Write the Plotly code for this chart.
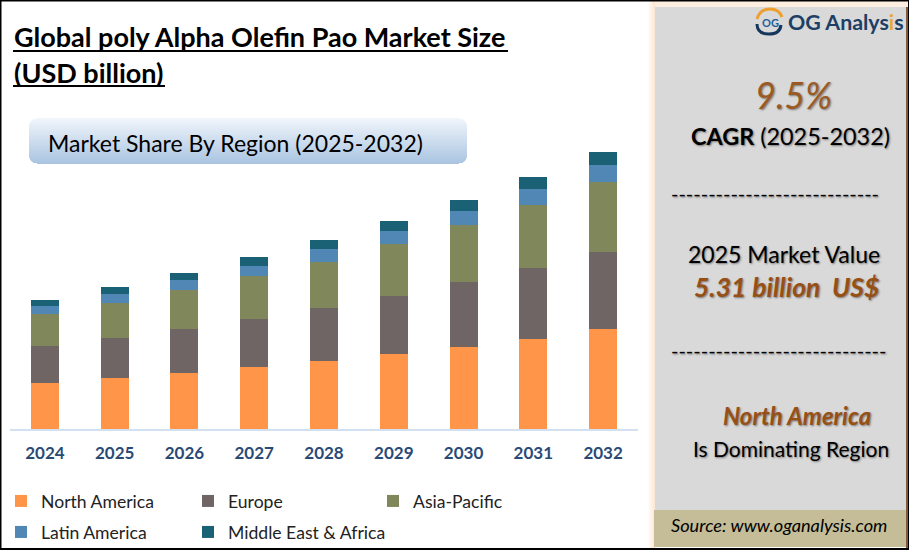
import plotly.graph_objects as go

years = ["2024", "2025", "2026", "2027", "2028", "2029", "2030", "2031", "2032"]
north_america = [1.72, 1.91, 2.09, 2.32, 2.54, 2.81, 3.08, 3.37, 3.74]
europe = [1.38, 1.51, 1.66, 1.80, 1.98, 2.17, 2.42, 2.66, 2.88]
asia_pacific = [1.20, 1.29, 1.45, 1.61, 1.73, 1.94, 2.13, 2.35, 2.62]
latin_america = [0.31, 0.35, 0.37, 0.37, 0.47, 0.49, 0.52, 0.61, 0.64]
middle_east = [0.21, 0.26, 0.26, 0.34, 0.34, 0.37, 0.41, 0.45, 0.49]

WIDTH, HEIGHT = 909, 550
SHADOW = "1px 1px 2px rgba(0,0,0,0.45)"


def px(x):
    return x / WIDTH


def py(y):
    return (HEIGHT - y) / HEIGHT


def rect(x0, y0, x1, y1, color):
    return dict(type="rect", xref="paper", yref="paper", x0=px(x0), x1=px(x1), y0=py(y0), y1=py(y1),
                fillcolor=color, line_width=0, layer="below")


def line(x0, y0, x1, y1, color, width):
    return dict(type="line", xref="paper", yref="paper", x0=px(x0), x1=px(x1), y0=py(y0), y1=py(y1),
                line=dict(color=color, width=width))


def curve(points, color, width):
    # points: start, then (ctrl, end) pairs of quadratic curves
    d = f"M{px(points[0][0])},{py(points[0][1])}"
    for c, e in zip(points[1::2], points[2::2]):
        d += f" Q{px(c[0])},{py(c[1])} {px(e[0])},{py(e[1])}"
    return dict(type="path", xref="paper", yref="paper", path=d, line=dict(color=color, width=width))


def label(x, y, text, size, color="#000000", anchor="left", shadow=None):
    font = dict(family="Lato", size=size, color=color)
    if shadow:
        font["shadow"] = shadow
    return dict(xref="paper", yref="paper", x=px(x), y=py(y), text=text, showarrow=False,
                xanchor=anchor, yanchor="middle", font=font, borderpad=0)


def mix(c1, c2, t):
    return "rgb(%d,%d,%d)" % tuple(round(a + (b - a) * t) for a, b in zip(c1, c2))


shapes = []

# gradient pill behind the sub heading, drawn as thin strips
pill_top, pill_bottom, pill_r = 118, 164, 8
for y in range(pill_top, pill_bottom):
    t = (y - pill_top) / (pill_bottom - pill_top)
    dist = min(y - pill_top, pill_bottom - 1 - y)
    inset = 0
    if dist < pill_r:
        inset = pill_r - (pill_r ** 2 - (pill_r - dist) ** 2) ** 0.5
    shapes.append(rect(29 + inset, y, 467 - inset, y + 1, mix((240, 245, 251), (168, 195, 224), t)))

# soft orange glow left of the right hand panel
for x in range(647, 655):
    shapes.append(rect(x, 1, x + 1, 548, mix((255, 255, 255), (252, 232, 212), (x - 647) / 7)))
shapes.append(rect(655, 1, 909, 7, "#fdeedf"))
shapes.append(rect(655, 7, 906, 511, "#d9d9d9"))
shapes.append(rect(654, 510, 906, 547, "#c4bd97"))
shapes.append(rect(906, 7, 908, 548, "#7f5a3a"))

# frame
shapes.append(line(0, 0.5, 909, 0.5, "#000000", 2))
shapes.append(line(0.5, 0, 0.5, 550, "#000000", 2))
shapes.append(line(0, 549, 909, 549, "#000000", 2))
shapes.append(line(908.5, 0, 908.5, 550, "#000000", 1))

# title underlines
shapes.append(line(13, 51, 508, 51, "#000000", 2))
shapes.append(line(13, 86, 165, 86, "#000000", 2))

# logo ring
shapes.append(curve([(757, 24), (757, 34), (769, 34), (780, 34), (781, 25)], "#16365c", 3))
shapes.append(curve([(757, 19), (760, 9), (770, 9), (779, 9), (782, 17)], "#eda02f", 3))

annotations = [
    label(13, 37, "<b>Global poly Alpha Olefin Pao Market Size</b>", 27),
    label(13, 73, "<b>(USD billion)</b>", 27),
    label(47, 143, "Market Share By Region (2025-2032)", 23),
    label(770, 22, "<b>OG</b>", 11, "#1f5f99", "center"),
    label(787, 22, "<b>OG Analys<span style=\"color:#e8a93c\">i</span>s</b>", 21.4, "#1d3f66"),
    label(793, 95, "<i>9.5%</i>", 36, "#9c5a23", "center", shadow=SHADOW),
    label(690, 136, "<b>CAGR</b> (2025-2032)", 23.4, shadow=SHADOW),
    label(670, 193, "-" * 28, 20, shadow=SHADOW),
    label(784, 254, "2025 Market Value", 23, anchor="center", shadow=SHADOW),
    label(693, 287, "<b><i>5.31 billion  US$</i></b>", 26.5, "#974f14", shadow=SHADOW),
    label(670, 350, "-" * 29, 20, shadow=SHADOW),
    label(722, 415, "<b><i>North America</i></b>", 24, "#974f14", shadow=SHADOW),
    label(692, 448, "Is Dominating Region", 21, shadow=SHADOW),
    label(670, 525, "<i>Source: www.oganalysis.com</i>", 18.2),
]

fig = go.Figure()
# one legend per entry so that each one can sit on the reference's grid
series = [
    ("North America", north_america, "#ff9548", "legend", 1, 501),
    ("Europe", europe, "#6f6564", "legend2", 188, 501),
    ("Asia-Pacific", asia_pacific, "#80875a", "legend3", 373, 501),
    ("Latin America", latin_america, "#5187b5", "legend4", 1, 532),
    ("Middle East & Africa", middle_east, "#1a6176", "legend5", 188, 532),
]
legends = {}
for name, values, color, legend_id, legend_x, legend_y in series:
    fig.add_trace(go.Bar(x=years, y=values, name=name, marker_color=color, marker_line_width=0,
                         legend=legend_id, showlegend=True))
    legends[legend_id] = dict(
        orientation="h", xanchor="left", yanchor="middle", x=px(legend_x), y=py(legend_y),
        bgcolor="rgba(0,0,0,0)", font=dict(family="Lato", size=17.6, color="#222222"),
    )

fig.update_layout(
    width=WIDTH,
    height=HEIGHT,
    margin=dict(l=0, r=0, t=0, b=0, pad=0),
    paper_bgcolor="#ffffff",
    plot_bgcolor="rgba(0,0,0,0)",
    barmode="stack",
    bargap=0.6,
    showlegend=True,
    shapes=shapes,
    annotations=annotations,
    xaxis=dict(
        domain=[px(10), px(638)],
        type="category",
        showgrid=False,
        showline=True,
        linecolor="#d3e0f1",
        linewidth=2,
        ticks="",
        ticklabelstandoff=8,
        tickfont=dict(family="Lato", size=17, color="#2a4a76", weight="bold"),
    ),
    yaxis=dict(domain=[py(429), py(130)], range=[0, 11.18], visible=False),
    **legends,
)

# the browser's default body margin would push the figure 8px off the frame
fig.write_html("out.html", config={"displayModeBar": False}, post_script="document.body.style.margin = '0';")
